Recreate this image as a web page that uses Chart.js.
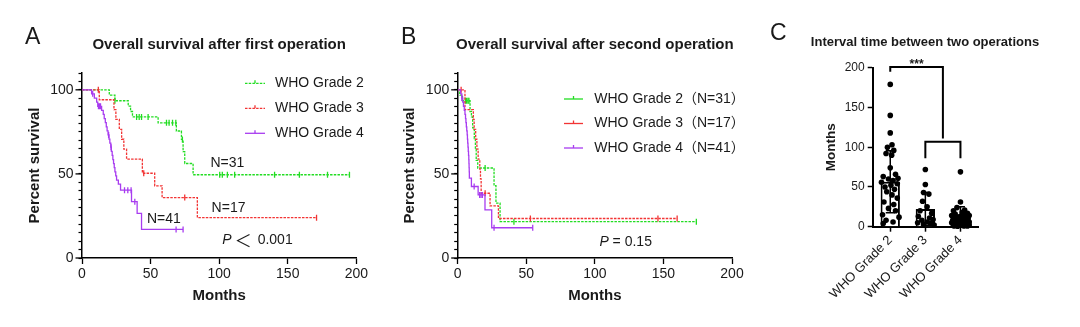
<!DOCTYPE html>
<html>
<head>
<meta charset="utf-8">
<script src="https://cdn.jsdelivr.net/npm/chart.js@4.4.1/dist/chart.umd.min.js"></script>
<style>
  body { margin: 0; background: #fff; width: 1080px; height: 327px; overflow: hidden; position: relative; }
  .panel { position: absolute; top: 0; height: 327px; }
  #boxA { left: 0; width: 370px; }
  #boxB { left: 370px; width: 380px; }
  #boxC { left: 760px; width: 320px; }
</style>
</head>
<body>
<div class="panel" id="boxA"><canvas id="chartA" width="370" height="327"></canvas></div>
<div class="panel" id="boxB"><canvas id="chartB" width="380" height="327"></canvas></div>
<div class="panel" id="boxC"><canvas id="chartC" width="320" height="327"></canvas></div>
<script>
// Group names shared by all three panels
const gradeLabels = ['WHO Grade 2', 'WHO Grade 3', 'WHO Grade 4'];
const groupSizes = [31, 17, 41];

// Panel A: overall survival after first operation (months, % survival at each drop)
const firstG2Months   = [0, 19.9, 24, 33.7, 35.4, 36.8, 55.5, 68.8, 72.5, 73.7, 74.9, 81, 195];
const firstG2Survival = [100, 96.8, 93.5, 90.3, 87.1, 83.9, 80.4, 75.5, 70.5, 63.2, 56.2, 49.5, 49.5];
const firstG2Censored = [24, 39.8, 41.7, 43.4, 48.2, 61.6, 63.5, 66, 68.4, 73.2, 100.4, 102.3, 106, 111.3, 140.4, 158.5, 179, 195];

const firstG3Months   = [0, 12.6, 23.3, 24.7, 27.2, 28.9, 30.5, 32.5, 44, 53, 58.4, 84.1, 171];
const firstG3Survival = [100, 94.1, 88.2, 82.4, 76.5, 70.6, 64.7, 58.8, 50.4, 42.9, 35.9, 24, 24];
const firstG3Censored = [11.9, 45, 74.9, 171];

const firstG4Months   = [0, 7, 9, 10.7, 11.5, 14.3, 15.5, 16.2, 17, 17.7, 18.3, 19, 19.7, 20.3, 21, 21.4, 22, 22.5, 23, 23.5, 24, 24.6, 25.2, 26.5, 28.1, 36.1, 40.2, 43.4, 73.7];
const firstG4Survival = [100, 97.6, 95.1, 92.7, 90.2, 87.8, 85.4, 82.9, 80.5, 78, 75.6, 73.2, 70.7, 68.3, 65.9, 63.4, 61, 58.5, 56.1, 53.7, 51.2, 48.8, 46.3, 43.9, 40.3, 33.5, 26.5, 17, 17];
const firstG4Censored = [7.8, 12, 12.8, 13.5, 19.4, 21.2, 31, 33.4, 35.8, 38.5, 68.6, 73.7];

// Panel B: overall survival after second operation
const secondG2Months   = [0, 1.5, 3.5, 9, 10, 10.9, 12.1, 12.9, 13.5, 14.6, 26.5, 27.9, 30.9, 174];
const secondG2Survival = [100, 96.8, 93.5, 87.1, 83.9, 77.4, 71, 64.5, 58.1, 53.5, 43, 32.6, 21.6, 21.6];
const secondG2Censored = [5.6, 6.5, 7.5, 8.2, 20, 41, 174];

const secondG3Months   = [0, 5.3, 11.4, 12, 13.1, 14, 14.9, 16.1, 16.6, 17.1, 23.6, 29.7, 160];
const secondG3Survival = [100, 88.2, 82.4, 76.5, 70.6, 64.7, 58.8, 52.9, 47.1, 38.5, 31, 23.5, 23.5];
const secondG3Censored = [2.5, 20, 53, 146, 160];

const secondG4Months   = [0, 2.2, 3, 3.7, 4.2, 4.8, 5.3, 5.7, 6, 6.3, 6.6, 6.9, 7.1, 7.3, 7.5, 7.7, 7.9, 8.1, 8.2, 8.3, 8.4, 8.5, 10, 14.9, 19.9, 24.8, 54.7];
const secondG4Survival = [100, 97.6, 95.1, 92.7, 90.2, 87.8, 85.4, 82.9, 80.5, 78, 75.6, 73.2, 70.7, 68.3, 65.9, 63.4, 61, 58.5, 56.1, 53.7, 51.2, 47.5, 42.5, 37.5, 28.6, 18, 18];
const secondG4Censored = [3, 12, 16, 17, 18, 26.5, 54.7];

// Panel C: interval time between two operations (months)
const intervalMean = [56.6, 22.3, 12.6];
const intervalSD = [39, 20.7, 12.4];
const grade2Interval = [179, 140, 118, 103, 100, 96, 92, 90, 74, 66, 63, 61, 60, 58, 56, 54, 52, 50, 47, 44, 40, 36, 31, 28, 23, 20, 15, 12, 8, 6, 4];
const grade3Interval = [72, 53, 43, 41, 32, 25, 20, 17, 13, 11, 9, 8, 6, 5, 4, 3, 2];
const grade4Interval = [69, 31, 24, 21, 20, 18, 17, 16, 15, 14, 14, 13, 12, 12, 11, 10, 10, 9, 9, 8, 8, 7, 7, 6, 6, 6, 5, 5, 4, 4, 4, 3, 3, 3, 2, 2, 2, 1, 1, 1, 0.5];
// horizontal scatter of the dots, in category widths
const grade2Jitter = [0, 0, 0, 0.05, -0.08, 0.1, -0.12, 0.04, 0, 0.15, -0.2, 0.22, -0.05, 0.08, -0.25, 0.2, 0.02, -0.15, 0.12, -0.1, 0.05, 0.2, -0.18, 0.1, -0.05, 0.15, -0.22, 0.25, -0.12, 0.08, -0.2];
const grade3Jitter = [0, 0, -0.05, 0.1, -0.08, 0.05, -0.15, 0.18, -0.2, 0.12, 0.22, -0.1, 0.05, -0.22, 0.15, -0.05, 0.25];
const grade4Jitter = [0, 0, -0.1, 0.12, -0.2, 0.05, 0.2, -0.15, 0.1, -0.25, 0.25, 0, -0.08, 0.15, -0.18, 0.08, 0.22, -0.12, 0.18, -0.22, 0.02, 0.12, -0.05, 0.25, -0.15, 0.05, 0.2, -0.25, 0.1, -0.1, 0.22, -0.2, 0.02, 0.15, -0.12, 0.25, -0.02, 0.1, -0.18, 0.2, -0.08];

const FONT = '"Liberation Sans", Arial, "Noto Sans CJK SC", sans-serif';
const INK = '#1a1a1a';
const gradeColors = ['#22dd22', '#f23434', '#a83cf0'];
const gradeDash = [[2.5, 1.2], [2.5, 1.2], []];

Chart.defaults.font.family = FONT;
Chart.defaults.color = INK;

function stepPoints(months, survival) {
  return months.map((m, i) => ({ x: m, y: survival[i] }));
}

// survival level of a step curve at time t
function survivalAt(months, survival, t) {
  let s = survival[0];
  months.forEach((m, i) => { if (m <= t) s = survival[i]; });
  return s;
}

function kmDatasets(months, survival, censored, g) {
  return [{
    data: stepPoints(months, survival),
    showLine: true,
    stepped: true,
    borderColor: gradeColors[g],
    borderWidth: 1.3,
    borderDash: gradeDash[g],
    pointRadius: 0,
    order: 2 - g
  }, {
    data: censored.map(t => ({ x: t, y: survivalAt(months, survival, t) })),
    showLine: false,
    pointStyle: 'line',
    rotation: 90,
    pointRadius: 3,
    borderColor: gradeColors[g],
    borderWidth: 1.3,
    order: 2 - g
  }];
}

function drawText(ctx, text, x, y, font, align) {
  ctx.font = font;
  ctx.fillStyle = INK;
  ctx.textAlign = align || 'left';
  ctx.textBaseline = 'middle';
  ctx.fillText(text, x, y);
}

// Letters, titles, legend, notes and long major ticks for the survival panels
const kmDecor = {
  id: 'kmDecor',
  afterDraw(chart, args, opts) {
    const { ctx, chartArea, scales: { x, y } } = chart;
    ctx.save();
    ctx.strokeStyle = '#000';
    ctx.lineWidth = 1.3;
    [0, 50, 100].forEach(v => {
      const py = y.getPixelForValue(v);
      ctx.beginPath();
      ctx.moveTo(chartArea.left - 6.5, py);
      ctx.lineTo(chartArea.left, py);
      ctx.stroke();
    });

    drawText(ctx, opts.letter, opts.letterX, 38, '23px ' + FONT);
    drawText(ctx, opts.title, (chartArea.left + chartArea.right) / 2, 45, 'bold 15px ' + FONT, 'center');

    // legend
    opts.legend.texts.forEach((txt, i) => {
      const ly = opts.legend.rows[i];
      const lx = opts.legend.x;
      ctx.strokeStyle = gradeColors[i];
      ctx.lineWidth = 1.3;
      ctx.setLineDash(opts.legend.dash ? gradeDash[i] : []);
      ctx.beginPath();
      ctx.moveTo(lx, ly);
      ctx.lineTo(lx + opts.legend.len, ly);
      ctx.stroke();
      ctx.setLineDash([]);
      ctx.beginPath();
      ctx.moveTo(lx + opts.legend.len / 2, ly - 3);
      ctx.lineTo(lx + opts.legend.len / 2, ly);
      ctx.stroke();
      drawText(ctx, txt, opts.legend.textX, ly, '14px ' + FONT);
    });

    // notes placed in data units
    opts.notes.forEach(n => {
      drawText(ctx, n.text, x.getPixelForValue(n.t), y.getPixelForValue(n.s), '14px ' + FONT);
    });

    // p value: italic P followed by the rest
    const px = x.getPixelForValue(opts.p.t);
    const py = y.getPixelForValue(opts.p.s);
    drawText(ctx, 'P', px, py, 'italic 14px ' + FONT);
    ctx.font = 'italic 14px ' + FONT;
    const pw = ctx.measureText('P').width;
    if (opts.p.big) {
      drawText(ctx, '＜', px + pw + 3, py, '17px "Noto Sans CJK SC", ' + FONT);
      drawText(ctx, '0.001', px + pw + 26, py, '14px ' + FONT);
    } else {
      drawText(ctx, opts.p.rest, px + pw, py, '14px ' + FONT);
    }
    ctx.restore();
  }
};

function makeKmChart(id, datasets, decor, pad, axisLeft) {
  return new Chart(document.getElementById(id), {
    type: 'scatter',
    data: { datasets },
    options: {
      responsive: false,
      animation: false,
      layout: { padding: pad },
      plugins: { legend: { display: false }, tooltip: { enabled: false }, kmDecor: decor },
      scales: {
        x: {
          type: 'linear', min: 0, max: 200,
          afterFit: s => { s.height = 327 - pad.bottom - 258; },
          ticks: { stepSize: 50, font: { size: 14 }, color: INK, padding: 2 },
          grid: { drawOnChartArea: false, tickLength: 6, tickColor: '#000', tickWidth: 1.3 },
          border: { color: '#000', width: 1.5 },
          title: { display: true, text: 'Months', font: { size: 15, weight: 'bold' }, color: INK, padding: { top: 0, bottom: 0 } }
        },
        y: {
          type: 'linear', min: 0, max: 110,
          afterFit: s => { s.width = axisLeft - pad.left; },
          ticks: { stepSize: 5, autoSkip: false, font: { size: 14 }, color: INK, padding: 5,
                   callback: v => (v % 50 === 0 ? v : '') },
          grid: { drawOnChartArea: false, tickLength: 3.5, tickColor: '#000', tickWidth: 1.2 },
          border: { color: '#000', width: 1.5 },
          title: { display: true, text: 'Percent survival', font: { size: 15, weight: 'bold' }, color: INK, padding: { top: 0, bottom: 0 } }
        }
      }
    },
    plugins: [kmDecor]
  });
}

makeKmChart('chartA', [
  ...kmDatasets(firstG2Months, firstG2Survival, firstG2Censored, 0),
  ...kmDatasets(firstG3Months, firstG3Survival, firstG3Censored, 1),
  ...kmDatasets(firstG4Months, firstG4Survival, firstG4Censored, 2)
], {
  letter: 'A', letterX: 25,
  title: 'Overall survival after first operation',
  legend: { x: 245, len: 20, textX: 275, rows: [83.3, 108.3, 133.3], dash: true, texts: gradeLabels },
  notes: [
    { text: 'N=' + groupSizes[0], t: 93.6, s: 56.5 },
    { text: 'N=' + groupSizes[1], t: 94.5, s: 29.9 },
    { text: 'N=' + groupSizes[2], t: 47.3, s: 23 }
  ],
  p: { t: 102.3, s: 10.6, big: true }
}, { left: 26, right: 13, top: 73, bottom: 22 }, 82);

makeKmChart('chartB', [
  ...kmDatasets(secondG2Months, secondG2Survival, secondG2Censored, 0),
  ...kmDatasets(secondG3Months, secondG3Survival, secondG3Censored, 1),
  ...kmDatasets(secondG4Months, secondG4Survival, secondG4Censored, 2)
], {
  letter: 'B', letterX: 31,
  title: 'Overall survival after second operation',
  legend: { x: 194, len: 19, textX: 224.3, rows: [99, 123.5, 148], dash: false,
            texts: gradeLabels.map((g, i) => g + '（N=' + groupSizes[i] + '）') },
  notes: [],
  p: { t: 103.3, s: 9.6, rest: ' = 0.15' }
}, { left: 31, right: 18, top: 73, bottom: 22 }, 87.7);

// Panel C: bars of the mean with SD, dots for each patient, significance brackets
const intervalDecor = {
  id: 'intervalDecor',
  afterDatasetDraw(chart, args) {
    if (args.index !== 0) return;
    const { ctx, scales: { x, y } } = chart;
    ctx.save();
    ctx.strokeStyle = '#000';
    ctx.lineWidth = 1.5;
    intervalMean.forEach((m, i) => {
      const cx = x.getPixelForValue(i);
      const top = y.getPixelForValue(m + intervalSD[i]);
      const bot = y.getPixelForValue(Math.max(m - intervalSD[i], 0));
      ctx.beginPath();
      ctx.moveTo(cx, top); ctx.lineTo(cx, bot);
      ctx.moveTo(cx - 4.5, top); ctx.lineTo(cx + 4.5, top);
      ctx.moveTo(cx - 4.5, bot); ctx.lineTo(cx + 4.5, bot);
      ctx.stroke();
    });
    ctx.restore();
  },
  afterDraw(chart) {
    const { ctx, chartArea, scales: { x, y } } = chart;
    const px = v => x.getPixelForValue(v);
    ctx.save();
    drawText(ctx, 'C', 10, 34, '23px ' + FONT);
    drawText(ctx, 'Interval time between two operations', 165, 42.7, 'bold 13px ' + FONT, 'center');
    ctx.strokeStyle = '#000';
    ctx.lineWidth = 2;
    ctx.beginPath();
    ctx.moveTo(px(0), y.getPixelForValue(195));
    ctx.lineTo(px(0), y.getPixelForValue(201));
    ctx.lineTo(px(1.5), y.getPixelForValue(201));
    ctx.lineTo(px(1.5), y.getPixelForValue(111));
    ctx.moveTo(px(1), y.getPixelForValue(86));
    ctx.lineTo(px(1), y.getPixelForValue(107));
    ctx.lineTo(px(2), y.getPixelForValue(107));
    ctx.lineTo(px(2), y.getPixelForValue(86));
    ctx.stroke();
    ctx.font = 'bold 12px ' + FONT;
    ctx.fillStyle = INK;
    ctx.textAlign = 'center';
    ctx.textBaseline = 'alphabetic';
    ctx.fillText('***', px(0.75), chartArea.top + 0.5);
    ctx.restore();
  }
};

const dotPoints = [];
[[grade2Interval, grade2Jitter], [grade3Interval, grade3Jitter], [grade4Interval, grade4Jitter]].forEach(([vals, jit], g) => {
  vals.forEach((v, i) => dotPoints.push({ x: g + jit[i], y: v }));
});

new Chart(document.getElementById('chartC'), {
  type: 'scatter',
  data: {
    datasets: [{
      type: 'bar',
      data: intervalMean.map((m, i) => ({ x: i, y: m })),
      backgroundColor: '#fff',
      borderColor: '#000',
      borderWidth: 2,
      categoryPercentage: 1,
      barPercentage: 0.55,
      order: 2
    }, {
      data: dotPoints,
      backgroundColor: '#000',
      borderColor: '#000',
      borderWidth: 0,
      pointRadius: 2.8,
      clip: false,
      order: 1
    }]
  },
  options: {
    responsive: false,
    animation: false,
    layout: { padding: { left: 63, right: 102, top: 67.7, bottom: 0 } },
    plugins: { legend: { display: false }, tooltip: { enabled: false } },
    scales: {
      x: {
        type: 'linear', min: -0.5, max: 2.5, offset: false,
        afterBuildTicks: s => { s.ticks = gradeLabels.map((g, i) => ({ value: i })); },
        afterFit: s => { s.height = 327 - 226.7; },
        ticks: { minRotation: 45, maxRotation: 45, autoSkip: false, font: { size: 13 }, color: INK, padding: 1,
                 callback: v => gradeLabels[v] },
        grid: { drawOnChartArea: false, offset: false, tickLength: 5, tickColor: '#000', tickWidth: 1.5 },
        border: { color: '#000', width: 2 }
      },
      y: {
        min: 0, max: 200,
        afterFit: s => { s.width = 112.7 - 63; },
        ticks: { stepSize: 50, font: { size: 12 }, color: INK, padding: 3 },
        grid: { drawOnChartArea: false, tickLength: 5, tickColor: '#000', tickWidth: 1.5 },
        border: { color: '#000', width: 2 },
        title: { display: true, text: 'Months', font: { size: 13.5, weight: 'bold' }, color: INK, padding: { top: 0, bottom: 0 } }
      }
    }
  },
  plugins: [intervalDecor]
});
</script>
</body>
</html>
